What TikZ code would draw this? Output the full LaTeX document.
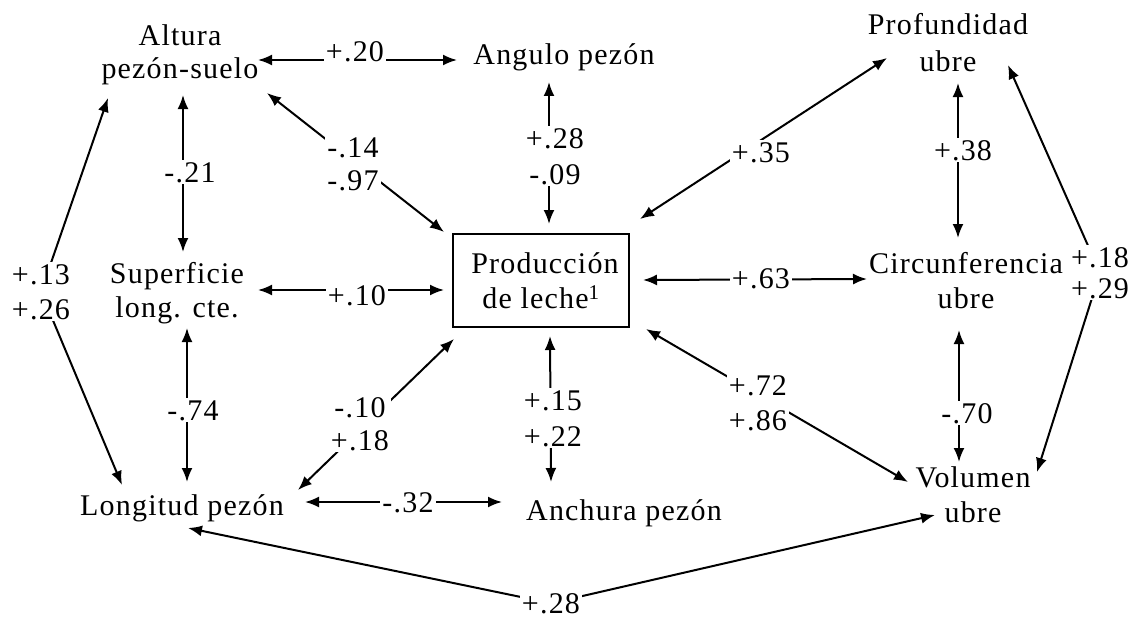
\documentclass[tikz,border=0pt]{standalone}
\usepackage{fontspec}
\setmainfont{Liberation Serif}[LetterSpace=4]
\usetikzlibrary{arrows.meta,backgrounds}
\tikzset{
  every node/.style={font=\fontsize{30}{34}\selectfont},
  lab/.style={anchor=base, inner sep=0pt, align=center},
  num/.style={anchor=base, inner sep=2pt, fill=white, align=center},
  conn/.style={line width=2pt, {Latex[length=14pt,width=11pt]}-{Latex[length=14pt,width=11pt]}},
}
\begin{document}
\begin{tikzpicture}[x=1pt,y=-1pt]
\useasboundingbox (0,0) rectangle (1141,618);
% labels on connectors (anchor base = baseline of last line)
\node[num] (n20) at (355,62) {+.20};
\node[num] (n21) at (190,182) {-.21};
\node[num, font=\fontsize{30}{33}\selectfont] (n14) at (353,190) {-.14\\-.97};
\node[num, font=\fontsize{30}{36}\selectfont] (n28a) at (555,184) {+.28\\-.09};
\node[num] (n35) at (761,162) {+.35};
\node[num] (n38) at (963,160) {+.38};
\node[num, font=\fontsize{30}{35}\selectfont] (n13) at (41,319) {+.13\\+.26};
\node[num] (n10) at (357,305) {+.10};
\node[num] (n63) at (761,288) {+.63};
\node[num, font=\fontsize{30}{31}\selectfont] (n18) at (1100,298) {+.18\\+.29};
\node[num] (n74) at (193,420) {-.74};
\node[num, font=\fontsize{30}{33}\selectfont] (n10b) at (360,450) {-.10\\+.18};
\node[num, font=\fontsize{30}{36}\selectfont] (n15) at (553,446) {+.15\\+.22};
\node[num, font=\fontsize{30}{35}\selectfont] (n72) at (758,430) {+.72\\+.86};
\node[num] (n70) at (967,423) {-.70};
\node[num] (n32) at (408,512) {-.32};
\node[num] (n28b) at (551,613) {+.28};
% main nodes
\node[lab, font=\fontsize{30}{33}\selectfont] (alt) at (180,78) {Altura\\pezón-suelo};
\node[lab] (ang) at (564,65) {Angulo pezón};
\node[lab, font=\fontsize{30}{37}\selectfont] (prof) at (948,72) {Profundidad\\ubre};
\node[lab] (sup) at (177,317) {Superficie\\long. cte.};
\node[draw, line width=2pt, minimum width=176pt, minimum height=93pt, align=center, inner sep=0pt, font=\fontsize{30}{35}\selectfont] (prod) at (541,280.5) {\hspace*{8pt}Producción\\de leche\textsuperscript{1}};
\node[lab, font=\fontsize{30}{35}\selectfont] (circ) at (966,308) {Circunferencia\\ubre};
\node[lab] (lon) at (182,515) {Longitud pezón};
\node[lab] (anc) at (624,520) {Anchura pezón};
\node[lab, font=\fontsize{30}{35}\selectfont] (vol) at (973,522) {Volumen\\ubre};
% connectors
\begin{pgfonlayer}{background}
\draw[conn] ([shift={(78,-18)}]alt.base) -- ([shift={(-107,-5)}]ang.base);
\draw[conn] ([shift={(3,17)}]alt.base) -- ([shift={(6,-65)}]sup.base);
\draw[conn] ([shift={(87,15)}]alt.base) -- ([shift={(-8,-1)}]prod.north west);
\draw[conn] ([shift={(-15,17)}]ang.base) -- ([shift={(8,-9)}]prod.north);
\draw[conn] ([shift={(10,-14)}]prod.north east) -- ([shift={(-61,-14)}]prof.base);
\draw[conn] ([shift={(10,11)}]prof.base) -- ([shift={(-8,-70)}]circ.base);
\draw[conn] ([shift={(60,-7)}]prof.base) -- (n18.center) -- ([shift={(64,-50)}]vol.base);
\draw[conn] ([shift={(-72,20)}]alt.base) -- (n13.center) -- ([shift={(-60,-30)}]lon.base);
\draw[conn] ([shift={(81,-27)}]sup.base) -- ([shift={(-8,9.5)}]prod.west);
\draw[conn] ([shift={(13,-0.5)}]prod.east) -- ([shift={(-99,-29)}]circ.base);
\draw[conn] ([shift={(10,11)}]sup.base) -- ([shift={(5,-33)}]lon.base);
\draw[conn] ([shift={(116,-25)}]lon.base) -- ([shift={(2,11)}]prod.south west);
\draw[conn] ([shift={(9,8)}]prod.south) -- ([shift={(-73,-38)}]anc.base);
\draw[conn] ([shift={(16,1)}]prod.south east) -- ([shift={(-65,-40)}]vol.base);
\draw[conn] ([shift={(-7,22)}]circ.base) -- ([shift={(-14,-60)}]vol.base);
\draw[conn] ([shift={(123,-13)}]lon.base) -- ([shift={(-122,-18)}]anc.base);
\draw[conn] ([shift={(6,13)}]lon.base) -- (n28b.center) -- ([shift={(-38,-7)}]vol.base);
\end{pgfonlayer}
\end{tikzpicture}
\end{document}
